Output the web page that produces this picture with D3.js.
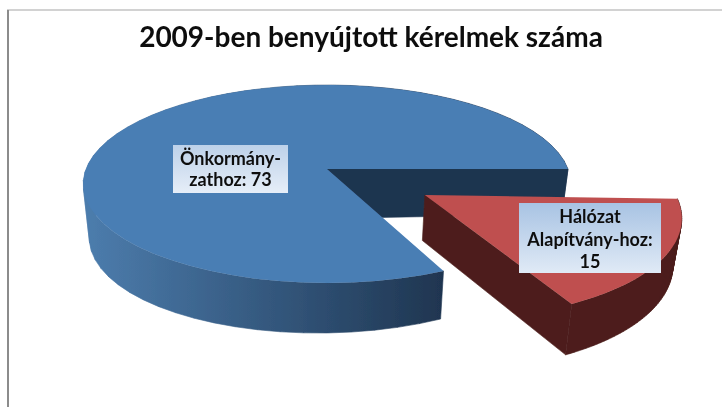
<!DOCTYPE html>
<html>
<head>
<meta charset="utf-8">
<script src="https://cdn.jsdelivr.net/npm/d3@7"></script>
<style>
  html, body { margin: 0; padding: 0; background: #fff; }
  svg { display: block; }
  text { font-family: Lato, "Open Sans", sans-serif; font-weight: 700; fill: #111; text-anchor: middle; }
</style>
</head>
<body>
<svg width="722" height="407"></svg>
<script>
const chartTitle = "2009-ben benyújtott kérelmek száma";
const categories = ["Hálózat Alapítvány-hoz", "Önkormányzathoz"];
const values = [15, 73];
const labelLines = [["Hálózat", "Alapítvány-hoz:", "15"], ["Önkormány-", "zathoz: 73"]];

const deg = Math.PI / 180;
const center = { x: 327, y: 169 };
const radius = 241, tilt = 96.7, persp = 0.1515;
const shrink = 0.975;
const bluePad = 2 * deg;

const svg = d3.select("svg");
const defs = svg.append("defs");

const wallGrad = defs.append("linearGradient").attr("id", "blueWall")
    .attr("gradientUnits", "userSpaceOnUse")
    .attr("x1", 88).attr("x2", 444).attr("y1", 0).attr("y2", 0);
wallGrad.append("stop").attr("offset", 0).attr("stop-color", "#4c7cac");
wallGrad.append("stop").attr("offset", 0.55).attr("stop-color", "#32557a");
wallGrad.append("stop").attr("offset", 1).attr("stop-color", "#1f3550");

const boxGrad = (id, top, bottom) => {
    let g = defs.append("linearGradient").attr("id", id)
        .attr("x1", 0).attr("x2", 0).attr("y1", 0).attr("y2", 1);
    g.append("stop").attr("offset", 0).attr("stop-color", top);
    g.append("stop").attr("offset", 1).attr("stop-color", bottom);
}
boxGrad("boxBlue", "#bdd1e9", "#e6eef8");
boxGrad("boxRed", "#a8c3e3", "#e0eaf6");

defs.append("filter").attr("id", "soft")
    .append("feGaussianBlur").attr("stdDeviation", 0.55);

// frame of the pasted chart
const frame = svg.append("g");
frame.append("line").attr("x1", 7).attr("x2", 722).attr("y1", 10).attr("y2", 10)
    .attr("stroke", "#d2d2d2").attr("stroke-width", 2);
frame.append("line").attr("x1", 8).attr("x2", 8).attr("y1", 10).attr("y2", 407)
    .attr("stroke", "#8c8c8c").attr("stroke-width", 2);

// unit disk -> screen, with the front of the disk drawn larger
const top3d = (u, v) => {
    let s = 1 / (1 - persp * v);
    return [center.x + radius * u * s, center.y + tilt * v * s];
};
// the wall height changes a little across the picture, per slice
const bottom3d = wall => (u, v) => {
    let [x, y] = top3d(u, v);
    return [center.x + (x - center.x) * shrink, y + wall.base + wall.du * u + wall.dv * v];
};
const pathOf = d3.line();
const arcPoints = (a0, a1, off, project) => d3.range(0, 61).map(i => {
    let a = a0 + (a1 - a0) * i / 60;
    return project(off.u + Math.sin(a), off.v - Math.cos(a));
});
// one quad per arc step, all wound the same way so the fold at the sides stays filled
const wallPath = (topArc, bottomArc) => d3.pairs(d3.range(topArc.length)).map(([p, q]) => {
    let quad = [topArc[p], topArc[q], bottomArc[q], bottomArc[p]];
    if (d3.polygonArea(quad) < 0) quad.reverse();
    return pathOf(quad) + "Z";
}).join("");

const slices = d3.pie().sort(null)
    .startAngle(92 * deg).endAngle(452 * deg)(values);

const chart = svg.append("g").attr("filter", "url(#soft)");

const styles = [
    { off: { u: 0.39, v: 0.258 }, pad: 0, h: { base: 44, du: 0, dv: 6 }, top: "#bf5050", wall: "#4d1f1c", cut: "#4d1f1c" },
    { off: { u: 0, v: 0 }, pad: bluePad, h: { base: 49.5, du: -4.5, dv: 0.5 }, top: "#4a7eb4", wall: "url(#blueWall)", cut: "#1f3550" }
];

// blue first, the red piece sits in front of it
[1, 0].forEach(i => {
    let d = slices[i], st = styles[i];
    let a0 = d.startAngle + st.pad, a1 = d.endAngle - st.pad;
    let bottom = bottom3d(st.h);
    let apexTop = top3d(st.off.u, st.off.v);
    let apexBottom = bottom(st.off.u, st.off.v);
    let topArc = arcPoints(a0, a1, st.off, top3d);
    let bottomArc = arcPoints(a0, a1, st.off, bottom);
    let g = chart.append("g").attr("class", "slice").datum(categories[i]);

    g.append("path").attr("fill", st.wall).attr("stroke", st.wall).attr("stroke-width", 0.6)
        .attr("d", wallPath(topArc, bottomArc));
    // the cut wall that faces the viewer
    let cutEnd = topArc[topArc.length - 1];
    let cutEndBottom = bottomArc[bottomArc.length - 1];
    g.append("path").attr("fill", st.cut).attr("stroke", st.cut).attr("stroke-width", 0.6)
        .attr("d", pathOf([apexTop, cutEnd, cutEndBottom, apexBottom]) + "Z");
    g.append("path").attr("fill", st.top)
        .attr("d", pathOf([apexTop].concat(topArc)) + "Z");
});

// title and data labels
const labelBoxes = [
    { x: 519, y: 203, w: 142, h: 70, fill: "url(#boxRed)", baselines: [223, 246, 268] },
    { x: 173, y: 145, w: 115, h: 48, fill: "url(#boxBlue)", baselines: [165, 186] }
];
const labels = svg.append("g").attr("filter", "url(#soft)");
labels.append("text").attr("x", 371).attr("y", 47)
    .style("font-size", "28px").text(chartTitle);
labelBoxes.forEach((b, i) => {
    labels.append("rect").attr("x", b.x).attr("y", b.y)
        .attr("width", b.w).attr("height", b.h).attr("fill", b.fill);
    labels.selectAll(null).data(labelLines[i]).join("text")
        .attr("x", b.x + b.w / 2)
        .attr("y", (t, j) => b.baselines[j])
        .style("font-size", "18px")
        .text(t => t);
});
</script>
</body>
</html>
